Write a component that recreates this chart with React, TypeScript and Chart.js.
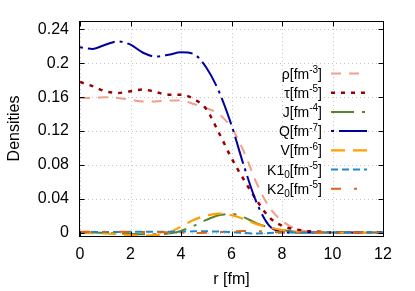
import React, { useEffect, useRef } from 'react';
import { Chart, registerables } from 'chart.js';

Chart.register(...registerables);

// ---- data ----
const rValues = [0, 0.5, 1, 1.5, 2, 2.5, 3, 3.5, 4, 4.5, 5, 5.5, 6, 6.5, 7, 7.5, 8, 8.5, 9, 9.5, 10, 10.5, 11, 11.5, 12];

const rhoValues = [0.159, 0.159, 0.16, 0.159, 0.157, 0.155, 0.155, 0.156, 0.156, 0.152, 0.147, 0.14, 0.124, 0.095, 0.058, 0.03, 0.014, 0.005, 0.0015, 0.0005, 0, 0, 0, 0, 0];
const tauValues = [0.178, 0.173, 0.167, 0.165, 0.167, 0.169, 0.166, 0.163, 0.163, 0.158, 0.146, 0.118, 0.088, 0.062, 0.038, 0.018, 0.008, 0.004, 0.002, 0.001, 0, 0, 0, 0, 0];
const jValues = [0, 0, -0.0005, -0.001, -0.0015, -0.002, -0.002, -0.001, 0.002, 0.008, 0.015, 0.0205, 0.022, 0.018, 0.011, 0.006, 0.003, 0.001, 0.0003, 0, 0, 0, 0, 0, 0];
const qValues = [0.219, 0.217, 0.222, 0.226, 0.222, 0.2125, 0.208, 0.21, 0.213, 0.211, 0.195, 0.167, 0.127, 0.078, 0.035, 0.008, 0.001, 0, 0, 0, 0, 0, 0, 0, 0];
const vValues = [0, -0.0005, -0.001, -0.002, -0.003, -0.0035, -0.003, 0, 0.007, 0.015, 0.02, 0.0225, 0.0205, 0.016, 0.01, 0.006, 0.003, 0.001, 0.0003, 0, 0, 0, 0, 0, 0];
const k10Values = [0.0005, 0.0006, 0.0007, 0.0008, 0.0009, 0.001, 0.001, 0.001, 0.001, 0.0015, 0.0015, 0.0012, 0.0005, -0.0005, -0.001, -0.0005, 0, 0, 0, 0, 0, 0, 0, 0, 0];
const k20Values = [0.001, 0.001, 0.001, 0.0009, 0.0008, 0.0007, 0.0005, 0.0003, 0, -0.0005, -0.0003, 0.0005, 0.0015, 0.002, 0.0018, 0.001, 0.0003, 0, 0, 0, 0, 0, 0, 0, 0];

const xTickValues = [0, 2, 4, 6, 8, 10, 12];
const xTickLabels = ['0', '2', '4', '6', '8', '10', '12'];
const yTickValues = [0, 0.04, 0.08, 0.12, 0.16, 0.2, 0.24];
const yTickLabels = ['0', '0.04', '0.08', '0.12', '0.16', '0.2', '0.24'];

const xTitle = 'r [fm]';
const yTitle = 'Densities';

// legend label pieces: [text, kind] kind: '' normal, 'sup', 'sub'
const rhoLabel: [string, string][] = [['ρ[fm', ''], ['-3', 'sup'], [']', '']];
const tauLabel: [string, string][] = [['τ[fm', ''], ['-5', 'sup'], [']', '']];
const jLabel: [string, string][] = [['J[fm', ''], ['-4', 'sup'], [']', '']];
const qLabel: [string, string][] = [['Q[fm', ''], ['-7', 'sup'], [']', '']];
const vLabel: [string, string][] = [['V[fm', ''], ['-6', 'sup'], [']', '']];
const k10Label: [string, string][] = [['K1', ''], ['0', 'sub'], ['[fm', ''], ['-5', 'sup'], [']', '']];
const k20Label: [string, string][] = [['K2', ''], ['0', 'sub'], ['[fm', ''], ['-5', 'sup'], [']', '']];

const FONT = "'Liberation Sans', Arial, sans-serif";

const seriesDefs = [
  { values: rhoValues, label: rhoLabel, color: '#f0a08a', dash: [10, 8], width: 2 },
  { values: tauValues, label: tauLabel, color: '#990000', dash: [4, 6], width: 2.5 },
  { values: jValues, label: jLabel, color: '#5a8232', dash: [23, 8, 3, 8], width: 2 },
  { values: qValues, label: qLabel, color: '#0000a0', dash: [3, 5, 28, 5], width: 2 },
  { values: vValues, label: vLabel, color: '#ffa000', dash: [14, 8], width: 2.2 },
  { values: k10Values, label: k10Label, color: '#1e88c8', dash: [7, 4], width: 2 },
  { values: k20Values, label: k20Label, color: '#e06414', dash: [10, 13, 3, 13], width: 2 },
];

const framePlugin = {
  id: 'gnuframe',
  beforeDatasetsDraw(chart: any) {
    const { ctx, chartArea, scales } = chart;
    const { left, right, top, bottom } = chartArea;
    ctx.save();
    ctx.strokeStyle = '#c4c4c4';
    ctx.lineWidth = 1;
    ctx.setLineDash([1, 3]);
    for (const v of yTickValues) {
      const py = Math.round(scales.y.getPixelForValue(v)) + 0.5;
      ctx.beginPath();
      ctx.moveTo(left, py);
      ctx.lineTo(right, py);
      ctx.stroke();
    }
    for (const v of xTickValues) {
      const px = Math.round(scales.x.getPixelForValue(v)) + 0.5;
      ctx.beginPath();
      ctx.moveTo(px, top);
      ctx.lineTo(px, bottom);
      ctx.stroke();
    }
    ctx.restore();
  },
  afterDatasetsDraw(chart: any) {
    const { ctx, chartArea, scales } = chart;
    const { left, right, top, bottom } = chartArea;
    ctx.save();
    // frame
    ctx.strokeStyle = '#000';
    ctx.lineWidth = 1;
    ctx.setLineDash([]);
    const l = Math.round(left) - 0.5;
    const r = Math.round(right) + 0.5;
    const t = Math.round(top) + 0.5;
    const b = Math.round(bottom) + 0.5;
    ctx.strokeRect(l, t, r - l, b - t);
    const tl = 5;
    ctx.beginPath();
    for (const v of yTickValues) {
      const py = Math.round(scales.y.getPixelForValue(v)) + 0.5;
      ctx.moveTo(l, py); ctx.lineTo(l + tl, py);
      ctx.moveTo(r, py); ctx.lineTo(r - tl, py);
    }
    for (const v of xTickValues) {
      const px = Math.round(scales.x.getPixelForValue(v)) + 0.5;
      ctx.moveTo(px, b); ctx.lineTo(px, b - tl);
      ctx.moveTo(px, t); ctx.lineTo(px, t + tl);
    }
    ctx.stroke();

    // legend
    const mainSize = 14;
    const smallSize = 10;
    const textRight = 322;
    const sampleL = 331;
    const sampleR = 367;
    const rowTop = 73.5;
    const rowStep = 19.2;
    seriesDefs.forEach((s, i) => {
      const cy = rowTop + i * rowStep;
      let total = 0;
      const widths = s.label.map(([txt, kind]) => {
        ctx.font = `${kind ? smallSize : mainSize}px ${FONT}`;
        const w = ctx.measureText(txt).width;
        total += w;
        return w;
      });
      let x = textRight - total;
      ctx.fillStyle = '#000';
      ctx.textAlign = 'left';
      ctx.textBaseline = 'alphabetic';
      const baseY = cy + 5;
      s.label.forEach(([txt, kind], k) => {
        ctx.font = `${kind ? smallSize : mainSize}px ${FONT}`;
        const yy = kind === 'sup' ? baseY - 5.5 : kind === 'sub' ? baseY + 3 : baseY;
        ctx.fillText(txt, x, yy);
        x += widths[k];
      });
      ctx.strokeStyle = s.color;
      ctx.lineWidth = s.width;
      ctx.setLineDash(s.dash);
      ctx.beginPath();
      ctx.moveTo(sampleL, cy);
      ctx.lineTo(sampleR, cy);
      ctx.stroke();
      ctx.setLineDash([]);
    });

    // axis titles
    ctx.fillStyle = '#000';
    ctx.font = `16px ${FONT}`;
    ctx.textAlign = 'center';
    ctx.textBaseline = 'middle';
    ctx.fillText(xTitle, (left + right) / 2, 279.5);
    ctx.save();
    ctx.translate(14.5, (top + bottom) / 2);
    ctx.rotate(-Math.PI / 2);
    ctx.fillText(yTitle, 0, 0);
    ctx.restore();
    ctx.restore();
  },
};

export default function App() {
  const ref = useRef<HTMLCanvasElement>(null);
  useEffect(() => {
    if (!ref.current) return;
    const datasets = seriesDefs.map((s, i) => ({
      label: s.label.map((p) => p[0]).join(''),
      data: rValues.map((r, k) => ({ x: r, y: s.values[k] })),
      borderColor: s.color,
      backgroundColor: s.color,
      borderWidth: s.width,
      borderDash: s.dash,
      pointRadius: 0,
      fill: false,
      cubicInterpolationMode: 'monotone' as const,
      order: seriesDefs.length - i,
    }));
    const chart = new Chart(ref.current, {
      type: 'line',
      data: { datasets },
      options: {
        animation: false,
        responsive: false,
        maintainAspectRatio: false,
        devicePixelRatio: 1,
        layout: { padding: { top: 21, right: 32, left: 0, bottom: 0 } },
        plugins: { legend: { display: false }, tooltip: { enabled: false }, title: { display: false } },
        scales: {
          x: {
            type: 'linear',
            min: 0,
            max: 12,
            grid: { display: false, drawTicks: false },
            border: { display: false },
            afterFit: (sc: any) => { sc.height = 55; },
            afterBuildTicks: (sc: any) => { sc.ticks = xTickValues.map((v) => ({ value: v })); },
            ticks: {
              padding: 9,
              color: '#000',
              maxRotation: 0,
              autoSkip: false,
              font: { family: FONT, size: 16 },
              callback: (_v: any, i: number) => xTickLabels[i],
            },
          },
          y: {
            type: 'linear',
            min: -0.004,
            max: 0.25,
            grid: { display: false, drawTicks: false },
            border: { display: false },
            afterFit: (sc: any) => { sc.width = 80; },
            afterBuildTicks: (sc: any) => { sc.ticks = yTickValues.map((v) => ({ value: v })); },
            ticks: {
              padding: 11,
              color: '#000',
              autoSkip: false,
              font: { family: FONT, size: 16 },
              callback: (_v: any, i: number) => yTickLabels[i],
            },
          },
        },
      },
      plugins: [framePlugin],
    });
    return () => chart.destroy();
  }, []);
  return (
    <div style={{ position: 'fixed', left: 0, top: 0, width: 415, height: 291, background: '#fff' }}>
      <canvas ref={ref} width={415} height={291} style={{ width: 415, height: 291, display: 'block' }} />
    </div>
  );
}
